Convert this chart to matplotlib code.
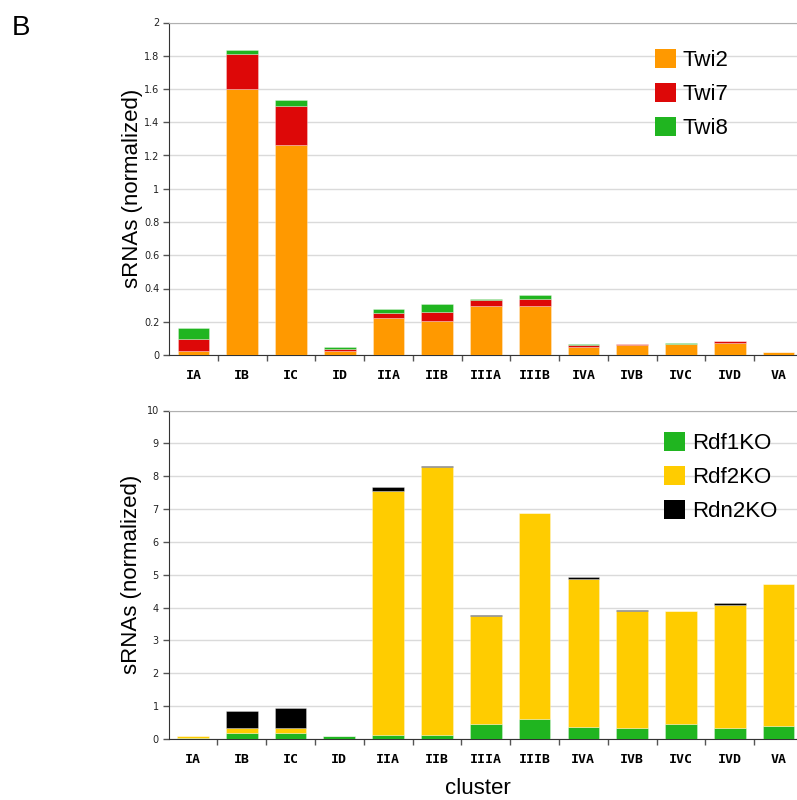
import numpy as np
import matplotlib
matplotlib.use("Agg")
import matplotlib.pyplot as plt
from matplotlib.patches import Patch
from matplotlib.ticker import FixedLocator, FuncFormatter

clusters = ['IA', 'IB', 'IC', 'ID', 'IIA', 'IIB', 'IIIA', 'IIIB', 'IVA', 'IVB', 'IVC', 'IVD', 'VA']

# top panel (Twi)
twi2 = [0.026, 1.600, 1.265, 0.025, 0.225, 0.205, 0.297, 0.297, 0.050, 0.062, 0.064, 0.072, 0.018]
twi7 = [0.069, 0.213, 0.232, 0.010, 0.028, 0.054, 0.033, 0.037, 0.012, 0.004, 0.003, 0.010, 0.001]
twi8 = [0.068, 0.020, 0.037, 0.015, 0.026, 0.050, 0.008, 0.028, 0.002, 0.001, 0.004, 0.001, 0.001]

# bottom panel (KO)
rdf1 = [0.02, 0.19, 0.19, 0.08, 0.11, 0.11, 0.45, 0.60, 0.375, 0.32, 0.45, 0.35, 0.40]
rdf2 = [0.07, 0.155, 0.155, 0.02, 7.44, 8.17, 3.29, 6.28, 4.495, 3.57, 3.45, 3.74, 4.32]
rdn2 = [0.0, 0.50, 0.59, 0.0, 0.11, 0.04, 0.04, 0.0, 0.05, 0.04, 0.0, 0.06, 0.0]

top_series = [('Twi2', twi2, '#FF9900'), ('Twi7', twi7, '#DD0808'), ('Twi8', twi8, '#20B520')]
bot_series = [('Rdf1KO', rdf1, '#20B520'), ('Rdf2KO', rdf2, '#FFCC00'), ('Rdn2KO', rdn2, '#000000')]

W, H = 797, 800
fig = plt.figure(figsize=(W / 100, H / 100), dpi=100)

lab_font = dict(family=['Liberation Sans', 'DejaVu Sans'], size=16)


def draw(ax, series, ymax, ystep, legend_anchor):
    x = np.arange(len(clusters))
    bottom = np.zeros(len(clusters))
    handles = []
    for name, vals, col in series:
        v = np.array(vals, dtype=float)
        ax.bar(x, v, bottom=bottom, width=0.65, color=col, edgecolor=(1, 1, 1, 0.35),
               linewidth=0.6, zorder=3)
        bottom += v
        handles.append(Patch(facecolor=col, edgecolor='none', label=name))
    ax.set_xlim(-0.5, len(clusters) - 0.5)
    ax.set_ylim(0, ymax)
    ax.set_yticks(np.arange(0, ymax + ystep / 2, ystep))
    ax.yaxis.set_major_formatter(FuncFormatter(lambda v, p: f'{v:.1f}'.rstrip('0').rstrip('.') if v else '0'))
    ax.grid(axis='y', color='#dadada', linewidth=1.0, zorder=0)
    ax.set_axisbelow(True)
    ax.xaxis.set_major_locator(FixedLocator(np.arange(0.5, len(clusters) - 0.5, 1)))
    ax.xaxis.set_minor_locator(FixedLocator(x))
    ax.set_xticklabels([], minor=False)
    ax.set_xticklabels(clusters, minor=True, fontsize=9.5, fontweight='bold',
                       family='DejaVu Sans Mono')
    ax.tick_params(axis='x', which='major', length=4, width=1, color='#555555', direction='out')
    ax.tick_params(axis='x', which='minor', length=0, pad=10)
    ax.tick_params(axis='y', length=4, width=1, color='#555555', labelsize=7, pad=3,
                   labelcolor='#222222')
    for lbl in ax.get_yticklabels():
        lbl.set_family('DejaVu Sans')
    ax.spines['left'].set_color('#333333')
    ax.spines['bottom'].set_color('#333333')
    ax.spines['top'].set_color('#b0b0b0')
    ax.spines['right'].set_visible(False)
    ax.set_ylabel('sRNAs (normalized)', fontdict=lab_font)
    ax.yaxis.set_label_coords((143 - 169) / 634, 0.5)
    ax.legend(handles=handles, loc='upper left', bbox_to_anchor=legend_anchor,
              bbox_transform=fig.transFigure, frameon=False, borderpad=0,
              handlelength=0.95, handleheight=0.95, handletextpad=0.3,
              labelspacing=0.52, prop=dict(family=['Liberation Sans', 'DejaVu Sans'], size=16),
              borderaxespad=0)
    return ax


ax1 = fig.add_axes([169 / W, 1 - 355 / H, 634 / W, 332.5 / H])
draw(ax1, top_series, 2.0, 0.2, (655 / W, 1 - 49 / H))

ax2 = fig.add_axes([168.5 / W, 1 - 739 / H, 634.5 / W, 328.5 / H])
draw(ax2, bot_series, 10, 1, (664 / W, 1 - 432 / H))
ax2.set_xlabel('cluster', fontdict=lab_font)
ax2.xaxis.set_label_coords((478 - 168.5) / 634.5, -0.118)

fig.text(12 / W, 1 - 35 / H, 'B', fontsize=20, family=['Liberation Sans', 'DejaVu Sans'],
         ha='left', va='baseline')

fig.savefig('out.png', dpi=100)
